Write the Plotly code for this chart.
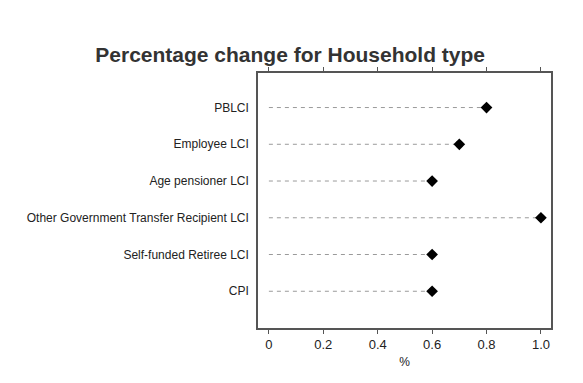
import plotly.graph_objects as go

categories = ["PBLCI", "Employee LCI", "Age pensioner LCI",
              "Other Government Transfer Recipient LCI",
              "Self-funded Retiree LCI", "CPI"]
values = [0.8, 0.7, 0.6, 1.0, 0.6, 0.6]
x_ticks = [0, 0.2, 0.4, 0.6, 0.8, 1.0]
x_tick_labels = ["0", "0.2", "0.4", "0.6", "0.8", "1.0"]

n = len(categories)
ypos = [n - 1 - i for i in range(n)]

lx, ly = [], []
for v, y in zip(values, ypos):
    lx += [0, v, None]
    ly += [y, y, None]

fig = go.Figure()
fig.add_trace(go.Scatter(x=lx, y=ly, mode="lines",
                         line=dict(color="#9a9a9a", width=1, dash="4px,4px"),
                         hoverinfo="skip", showlegend=False))
fig.add_trace(go.Scatter(x=values, y=ypos, mode="markers",
                         marker=dict(symbol="diamond", size=9, color="black"),
                         showlegend=False))
fig.add_trace(go.Scatter(x=values, y=ypos, mode="markers",
                         marker=dict(symbol="circle", size=7, color="black"),
                         hoverinfo="skip", showlegend=False))

fig.update_layout(
    width=583, height=383,
    margin=dict(l=250, r=40, t=65, b=63),
    paper_bgcolor="white", plot_bgcolor="white",
    title=dict(text="<b>Percentage change for Household type</b>",
               x=0.484, xanchor="center", y=0.877, yanchor="middle",
               font=dict(family="Liberation Sans, Arial", size=21, color="#333333")),
    xaxis=dict(range=[-0.04, 1.037], tickvals=x_ticks, ticktext=x_tick_labels,
               ticks="outside", ticklen=4, tickcolor="#555", tickwidth=1,
               showline=True, linecolor="#555", linewidth=1.5, mirror="ticks",
               showgrid=False, zeroline=False, automargin=False,
               tickfont=dict(family="Liberation Sans, Arial", size=13, color="#222"),
               title=dict(text="%", standoff=6,
                          font=dict(family="Liberation Sans, Arial", size=12, color="#222"))),
    yaxis=dict(range=[-1.0, 5.94], tickvals=ypos, ticktext=categories,
               ticks="", showline=True, linecolor="#555", linewidth=1.5, mirror=True,
               showgrid=False, zeroline=False, ticklabelstandoff=5, automargin=False,
               tickfont=dict(family="Liberation Sans Narrow, Liberation Sans, Arial",
                             size=12, color="#222")),
)

fig.write_html("out.html")
